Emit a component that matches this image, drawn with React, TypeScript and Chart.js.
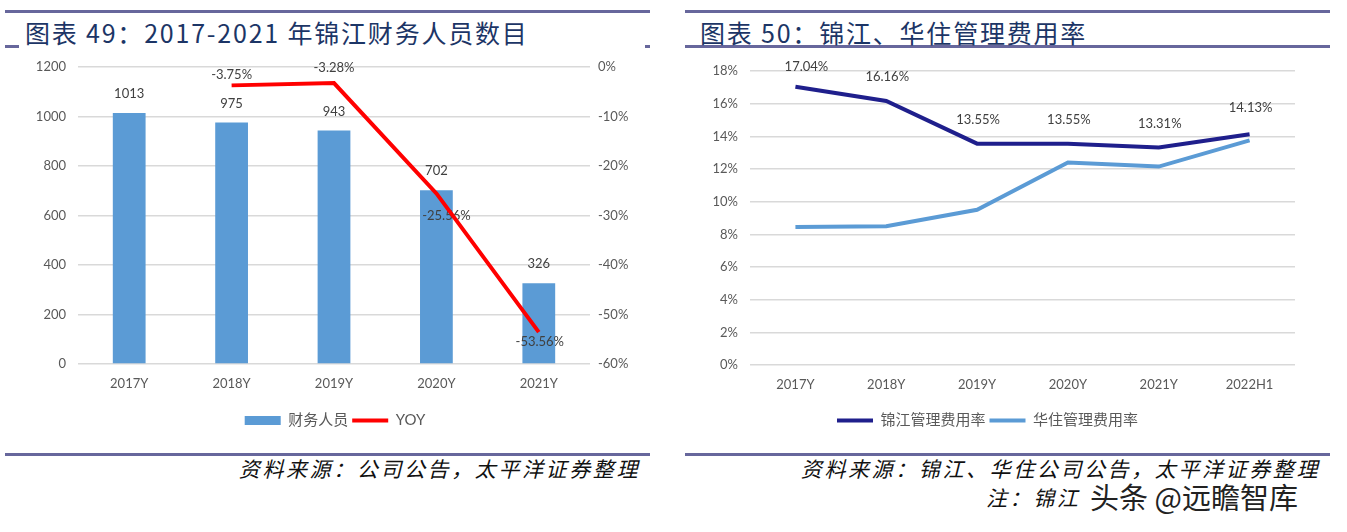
import React, { useEffect, useRef } from 'react';
import { Chart, registerables } from 'chart.js';

Chart.register(...registerables);

// ---------- data ----------
const staffCategories = ['2017Y', '2018Y', '2019Y', '2020Y', '2021Y'];
const staffCounts = [1013, 975, 943, 702, 326];
const staffYoy: (number | null)[] = [null, -3.75, -3.28, -25.56, -53.56];
const staffSeriesNames = ['财务人员', 'YOY'];

const rateCategories = ['2017Y', '2018Y', '2019Y', '2020Y', '2021Y', '2022H1'];
const jinjiangRate = [17.04, 16.16, 13.55, 13.55, 13.31, 14.13];
const huazhuRate = [8.45, 8.5, 9.5, 12.4, 12.15, 13.75];
const rateSeriesNames = ['锦江管理费用率', '华住管理费用率'];

const leftTitle = '图表 49：2017-2021 年锦江财务人员数目';
const rightTitle = '图表 50：锦江、华住管理费用率';
const leftSource = '资料来源：公司公告，太平洋证券整理';
const rightSource = '资料来源：锦江、华住公司公告，太平洋证券整理';
const rightNote = '注：锦江';
const watermark = '头条 @远瞻智库';

// ---------- styles ----------
const FONT = 'Lato, "Noto Sans CJK SC", sans-serif';
const TICK = '#595959';
const GRID = '#D9D9D9';
const RULE = '#67679C';
const BAR_BLUE = '#5B9BD5';
const RED = '#FF0000';
const NAVY = '#1F1F8C';

function legendLabels(chart: any) {
  return chart.data.datasets.map((ds: any, i: number) => {
    const isBar = ds.type === 'bar';
    return {
      text: ds.label,
      datasetIndex: i,
      fillStyle: isBar ? ds.backgroundColor : 'rgba(0,0,0,0)',
      strokeStyle: isBar ? ds.backgroundColor : ds.borderColor,
      lineWidth: isBar ? 0 : 4,
      pointStyle: isBar ? 'rect' : 'line',
      fontColor: TICK,
      hidden: false,
    };
  });
}

const legendOptions = {
  position: 'bottom' as const,
  labels: {
    usePointStyle: true,
    pointStyleWidth: 36,
    boxHeight: 9,
    padding: 4,
    color: TICK,
    font: { family: FONT, size: 15 },
    generateLabels: legendLabels,
  },
};

function StaffChart() {
  const ref = useRef<HTMLCanvasElement>(null);
  useEffect(() => {
    const labelPlugin = {
      id: 'staffLabels',
      afterDatasetDraw(chart: any, args: any) {
        if (args.index !== 0) return;
        const ctx = chart.ctx;
        ctx.save();
        ctx.font = `13px ${FONT}`;
        ctx.fillStyle = '#404040';
        ctx.textAlign = 'center';
        ctx.textBaseline = 'middle';
        chart.getDatasetMeta(0).data.forEach((el: any, i: number) => {
          ctx.fillText(String(staffCounts[i]), el.x, el.y - 19);
        });
        const shifts = [[0, 0], [0, -11], [0, -15], [10, 22], [1, 10]];
        chart.getDatasetMeta(1).data.forEach((el: any, i: number) => {
          const v = staffYoy[i];
          if (v == null) return;
          ctx.fillText(v.toFixed(2) + '%', el.x + shifts[i][0], el.y + shifts[i][1]);
        });
        ctx.restore();
      },
    };
    const chart = new Chart(ref.current as HTMLCanvasElement, {
      type: 'bar',
      data: {
        labels: staffCategories,
        datasets: [
          {
            type: 'bar',
            label: staffSeriesNames[0],
            data: staffCounts,
            backgroundColor: BAR_BLUE,
            yAxisID: 'y',
            categoryPercentage: 1,
            barPercentage: 0.32,
            order: 1,
          },
          {
            type: 'line',
            label: staffSeriesNames[1],
            data: staffYoy,
            yAxisID: 'y1',
            borderColor: RED,
            backgroundColor: RED,
            borderWidth: 4,
            pointRadius: 0,
            tension: 0,
            spanGaps: false,
            order: 0,
          },
        ] as any,
      },
      options: {
        responsive: false,
        animation: false,
        devicePixelRatio: 1,
        layout: { padding: { top: 13, left: 0, right: 0, bottom: 0 } },
        plugins: {
          legend: legendOptions as any,
          tooltip: { enabled: false },
          title: { display: false },
        },
        scales: {
          x: {
            grid: { display: false, drawTicks: false },
            border: { display: false },
            ticks: { color: TICK, font: { family: FONT, size: 13 }, padding: 12 },
            afterFit: (s: any) => { s.height = 45; },
          },
          y: {
            position: 'left',
            min: 0,
            max: 1200,
            ticks: {
              stepSize: 200,
              color: TICK,
              font: { family: FONT, size: 13 },
              padding: 12,
              callback: (v: any) => String(v),
            },
            grid: { color: GRID, lineWidth: 1.5, drawTicks: false },
            border: { display: false },
            afterFit: (s: any) => { s.width = 78; },
          },
          y1: {
            position: 'right',
            min: -60,
            max: 0,
            ticks: {
              stepSize: 10,
              color: TICK,
              font: { family: FONT, size: 13 },
              padding: 8,
              callback: (v: any) => v + '%',
            },
            grid: { drawOnChartArea: false, drawTicks: false },
            border: { display: false },
            afterFit: (s: any) => { s.width = 80; },
          },
        },
      } as any,
      plugins: [labelPlugin],
    });
    return () => chart.destroy();
  }, []);
  return (
    <canvas
      ref={ref}
      width={670}
      height={391}
      style={{ position: 'absolute', left: 0, top: 47, width: 670, height: 391 }}
    />
  );
}

function RateChart() {
  const ref = useRef<HTMLCanvasElement>(null);
  useEffect(() => {
    const labelPlugin = {
      id: 'rateLabels',
      afterDatasetsDraw(chart: any) {
        const ctx = chart.ctx;
        ctx.save();
        ctx.font = `13px ${FONT}`;
        ctx.fillStyle = '#404040';
        ctx.textAlign = 'center';
        ctx.textBaseline = 'middle';
        const shifts = [[11, -20], [1, -24], [1, -24], [1, -24], [1, -24], [1, -26]];
        chart.getDatasetMeta(0).data.forEach((el: any, i: number) => {
          ctx.fillText(jinjiangRate[i].toFixed(2) + '%', el.x + shifts[i][0], el.y + shifts[i][1]);
        });
        ctx.restore();
      },
    };
    const chart = new Chart(ref.current as HTMLCanvasElement, {
      type: 'line',
      data: {
        labels: rateCategories,
        datasets: [
          {
            label: rateSeriesNames[0],
            data: jinjiangRate,
            borderColor: NAVY,
            backgroundColor: NAVY,
            borderWidth: 4,
            pointRadius: 0,
            tension: 0,
          },
          {
            label: rateSeriesNames[1],
            data: huazhuRate,
            borderColor: BAR_BLUE,
            backgroundColor: BAR_BLUE,
            borderWidth: 4,
            pointRadius: 0,
            tension: 0,
          },
        ],
      },
      options: {
        responsive: false,
        animation: false,
        devicePixelRatio: 1,
        layout: { padding: { top: 21, left: 0, right: 52, bottom: 0 } },
        plugins: {
          legend: legendOptions as any,
          tooltip: { enabled: false },
          title: { display: false },
        },
        scales: {
          x: {
            offset: true,
            grid: { display: false, drawTicks: false },
            border: { display: false },
            ticks: { color: TICK, font: { family: FONT, size: 13 }, padding: 12 },
            afterFit: (s: any) => { s.height = 44; },
          },
          y: {
            min: 0,
            max: 18,
            ticks: {
              stepSize: 2,
              color: TICK,
              font: { family: FONT, size: 13 },
              padding: 12,
              callback: (v: any) => v + '%',
            },
            grid: { color: GRID, lineWidth: 1.5, drawTicks: false },
            border: { display: false },
            afterFit: (s: any) => { s.width = 70; },
          },
        },
      } as any,
      plugins: [labelPlugin],
    });
    return () => chart.destroy();
  }, []);
  return (
    <canvas
      ref={ref}
      width={667}
      height={388}
      style={{ position: 'absolute', left: 680, top: 50, width: 667, height: 388 }}
    />
  );
}

function Rule(props: { left: number; top: number; width: number }) {
  return (
    <div
      style={{
        position: 'absolute',
        left: props.left,
        top: props.top,
        width: props.width,
        height: 3,
        background: RULE,
      }}
    />
  );
}

const titleStyle: React.CSSProperties = {
  position: 'absolute',
  top: 17,
  fontFamily: '"Noto Sans CJK SC", sans-serif',
  fontSize: 25,
  lineHeight: '30px',
  letterSpacing: 1.8,
  color: '#1C3566',
  whiteSpace: 'nowrap',
};

const sourceStyle: React.CSSProperties = {
  position: 'absolute',
  fontFamily: '"Noto Sans CJK SC", sans-serif',
  fontStyle: 'italic',
  fontSize: 21,
  lineHeight: '26px',
  letterSpacing: 2.6,
  color: '#111',
  whiteSpace: 'nowrap',
  textAlign: 'right',
};

export default function App() {
  return (
    <div
      style={{
        position: 'absolute',
        left: 0,
        top: 0,
        width: 1347,
        height: 532,
        background: '#fff',
        overflow: 'hidden',
      }}
    >
      {/* left panel frame */}
      <Rule left={5} top={10} width={645} />
      <Rule left={5} top={45} width={14} />
      <Rule left={645} top={45} width={5} />
      <div style={{ ...titleStyle, left: 25 }}>{leftTitle}</div>
      <Rule left={5} top={453} width={645} />
      <div style={{ ...sourceStyle, right: 1347 - 640, top: 455 }}>{leftSource}</div>

      {/* right panel frame */}
      <Rule left={685} top={10} width={645} />
      <Rule left={685} top={45} width={645} />
      <div style={{ ...titleStyle, left: 700 }}>{rightTitle}</div>
      <Rule left={685} top={453} width={645} />
      <div style={{ ...sourceStyle, right: 1347 - 1320, top: 455 }}>{rightSource}</div>
      <div style={{ ...sourceStyle, left: 986, top: 484, textAlign: 'left' }}>{rightNote}</div>
      <div
        style={{
          position: 'absolute',
          left: 1090,
          top: 478,
          fontFamily: '"Noto Sans CJK SC", sans-serif',
          fontSize: 29,
          lineHeight: '36px',
          color: '#222',
          whiteSpace: 'nowrap',
          textShadow: '1px 1px 0 #fff, -1px -1px 0 #fff',
        }}
      >
        {watermark}
      </div>

      <StaffChart />
      <RateChart />
    </div>
  );
}
